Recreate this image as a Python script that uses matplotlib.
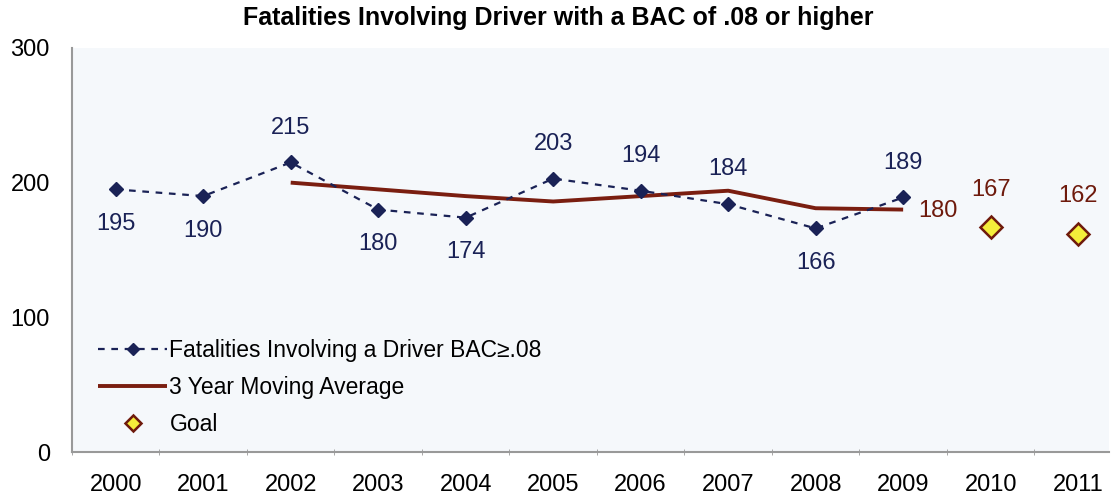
import numpy as np
import matplotlib.pyplot as plt

plt.rcParams['font.family'] = ['Liberation Sans', 'DejaVu Sans']

# данные с графика
years = ['2000', '2001', '2002', '2003', '2004', '2005',
         '2006', '2007', '2008', '2009', '2010', '2011']
fatal = [195, 190, 215, 180, 174, 203, 194, 184, 166, 189]
fatal_pos = ['below', 'below', 'above', 'below', 'below', 'above',
             'above', 'above', 'below', 'above']
avg_years = ['2002', '2003', '2004', '2005', '2006', '2007', '2008', '2009']
avg = [200, 195, 190, 186, 190, 194, 181, 180]
goal_years = ['2010', '2011']
goal = [167, 162]

navy = '#1a2256'
brown = '#6e1a0c'

fig = plt.figure(figsize=(11.16, 4.99), dpi=100)
ax = fig.add_axes([0.0645, 0.094, 0.929, 0.81])
ax.set_facecolor('#f5f8fb')

x = np.arange(len(years))
xf = x[:len(fatal)]
xa = np.array([years.index(y) for y in avg_years])
xg = np.array([years.index(y) for y in goal_years])

ax.plot(xa, avg, color='#7a1e10', lw=2.8, solid_capstyle='butt',
        label='3 Year Moving Average', zorder=2)
ax.plot(xf, fatal, color=navy, ls=(0, (3, 3)), lw=1.6, marker='D',
        ms=7, label='Fatalities Involving a Driver BAC\u2265.08', zorder=3)
ax.plot(xg, goal, ls='none', marker='D', ms=11, mfc='#f4ee3a',
        mec=brown, mew=1.8, label='Goal', zorder=3)

for xi, v, p in zip(xf, fatal, fatal_pos):
    dy = 25 if p == 'above' else -25
    ax.annotate(str(v), (xi, v), xytext=(0, dy), textcoords='offset points',
                ha='center', va='center', fontsize=17, color=navy)
ax.annotate(str(avg[-1]), (xa[-1], avg[-1]), xytext=(25, -1),
            textcoords='offset points', ha='center', va='center',
            fontsize=17, color=brown)
for xi, v in zip(xg, goal):
    ax.annotate(str(v), (xi, v), xytext=(0, 27), textcoords='offset points',
                ha='center', va='center', fontsize=17, color=brown)

ax.set_xlim(-0.5, 11.35)
ax.set_ylim(0, 300)
ax.set_yticks([0, 100, 200, 300])
ax.tick_params(axis='y', length=0, labelsize=17, pad=16)
ax.set_xticks(x)
ax.set_xticklabels(years)
ax.set_xticks(np.arange(-0.5, 11.5, 1), minor=True)
ax.tick_params(axis='x', which='major', length=0, labelsize=17, pad=16)
ax.tick_params(axis='x', which='minor', length=5, direction='inout',
               color='#999999')
for s in ['top', 'right']:
    ax.spines[s].set_visible(False)
ax.spines['left'].set_color('#999999')
ax.spines['bottom'].set_color('#999999')
ax.spines['left'].set_linewidth(1.5)
ax.spines['bottom'].set_linewidth(1.5)

h, l = ax.get_legend_handles_labels()
leg = ax.legend([h[1], h[0], h[2]], [l[1], l[0], l[2]], loc='lower left',
                bbox_to_anchor=(0.01, 0.0), frameon=False, fontsize=16.5,
                handlelength=3.0, handletextpad=0.1, labelspacing=0.62,
                borderaxespad=0.3)
leg.legend_handles[0].set_markersize(6)
leg.legend_handles[2].set_markersize(8)

fig.text(0.5, 0.963, 'Fatalities Involving Driver with a BAC of .08 or higher',
         ha='center', va='center', fontsize=18, fontweight='bold')

plt.savefig('out.png')
